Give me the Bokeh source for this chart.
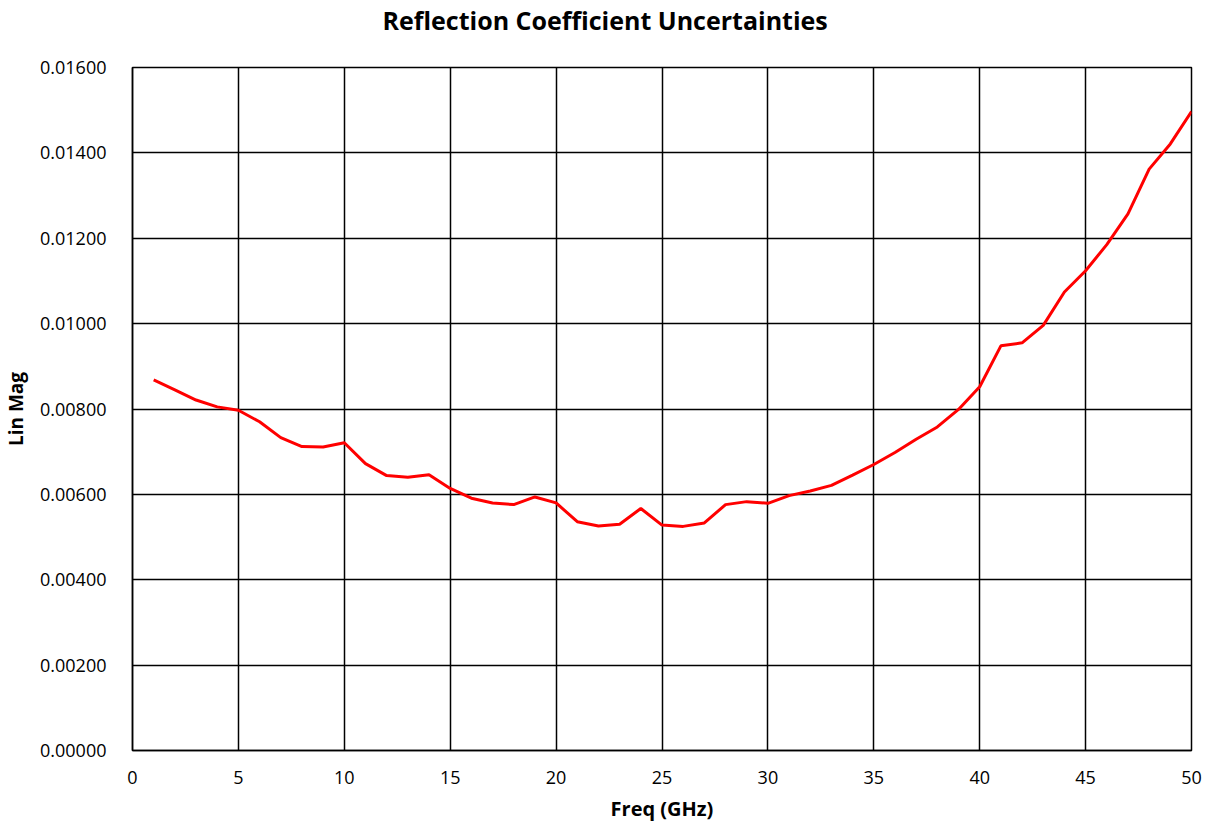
from bokeh.plotting import figure
from bokeh.models import FixedTicker, NumeralTickFormatter, Range1d, Title
from bokeh.embed import file_html
from bokeh.resources import INLINE

freq_ghz = list(range(1, 51))
lin_mag = [0.00868, 0.00845, 0.00821, 0.00805, 0.00797, 0.00770, 0.00733, 0.00712, 0.00711, 0.00721,
           0.00672, 0.00644, 0.00640, 0.00646, 0.00614, 0.00591, 0.00580, 0.00576, 0.00594, 0.00580,
           0.00536, 0.00526, 0.00530, 0.00567, 0.00528, 0.00525, 0.00533, 0.00576, 0.00583, 0.00579,
           0.00597, 0.00608, 0.00621, 0.00645, 0.00670, 0.00698, 0.00729, 0.00758, 0.00799, 0.00852,
           0.00948, 0.00955, 0.00996, 0.01074, 0.01124, 0.01185, 0.01257, 0.01362, 0.01421, 0.01497]
x_ticks = [0, 5, 10, 15, 20, 25, 30, 35, 40, 45, 50]
y_ticks = [0.0, 0.002, 0.004, 0.006, 0.008, 0.010, 0.012, 0.014, 0.016]
title_text = "Reflection Coefficient Uncertainties"

FONT = "Open Sans"

p = figure(width=1206, height=824, output_backend="svg", toolbar_location=None,
           x_range=Range1d(0, 50), y_range=Range1d(0, 0.016),
           min_border_left=130, min_border_right=15, min_border_top=66, min_border_bottom=72)

# spacer panel between frame and title
spacer = Title(text=" ", text_font_size="1px", standoff=28, text_color="white")
p.add_layout(spacer, "above")

main_title = Title(text=title_text, align="left", offset=250, vertical_align="bottom",
                   standoff=0, text_font=FONT, text_font_style="bold",
                   text_font_size="25px", text_color="black")
p.add_layout(main_title, "above")

p.line(freq_ghz, lin_mag, line_color="#ff0000", line_width=3)

p.xaxis.ticker = FixedTicker(ticks=x_ticks)
p.yaxis.ticker = FixedTicker(ticks=y_ticks)
p.yaxis.formatter = NumeralTickFormatter(format="0.00000")

for ax in (p.xaxis, p.yaxis):
    ax.major_tick_line_color = None
    ax.minor_tick_line_color = None
    ax.axis_line_color = "black"
    ax.axis_line_width = 1.5
    ax.major_label_text_font = FONT
    ax.major_label_text_font_size = "18px"
    ax.major_label_text_color = "black"
    ax.axis_label_text_font = FONT
    ax.axis_label_text_font_style = "bold"
    ax.axis_label_text_color = "black"

p.xaxis.axis_label_text_font_size = "20px"
p.yaxis.axis_label_text_font_size = "19px"
p.xaxis.axis_label = "Freq (GHz)"
p.yaxis.axis_label = "Lin Mag"
p.xaxis.major_label_standoff = 14
p.yaxis.major_label_standoff = 20
p.xaxis.axis_label_standoff = 8
p.yaxis.axis_label_standoff = 8

p.grid.grid_line_color = "black"
p.grid.grid_line_width = 1.5
p.grid.grid_line_alpha = 1.0

p.outline_line_color = "black"
p.outline_line_width = 1.5
p.outline_line_alpha = 1.0
p.background_fill_color = "white"
p.border_fill_color = "white"

open("out.html", "w").write(file_html(p, INLINE))
